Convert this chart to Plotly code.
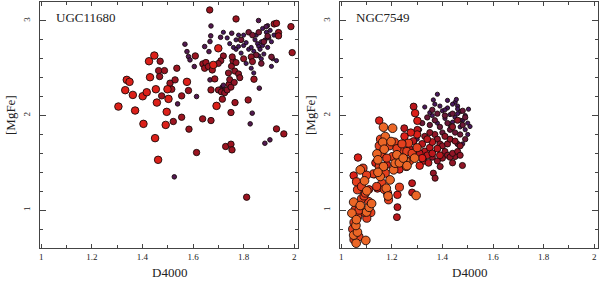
import plotly.graph_objects as go

# ---------------- data: UGC11680 (left) ----------------
ugc_x = [1.305,1.332,1.362,1.338,1.349,1.371,1.401,1.404,1.417,1.426,1.430,1.447,1.453,1.450,1.457,1.462,1.492,1.496,1.499,1.503,1.576,1.680,1.700,1.693,
         1.470,1.464,1.468,1.476,1.487,1.509,1.516,1.522,1.529,1.536,1.555,1.555,1.582,1.584,1.609,1.614,1.638,1.639,1.646,1.651,1.661,1.676,1.686,1.671,1.671,1.666,1.716,1.750,1.766,1.770,1.729,1.750,1.754,1.812,1.818,1.841,1.930,1.959,1.987,1.992,1.921,1.930,1.938,1.938,
         1.700,1.712,1.725,1.735,1.742,1.745,1.740,1.752,1.765,1.780,1.785,1.758,1.770,1.800,1.830,1.835,1.755,1.750,1.763,1.720,1.710,1.700,
         1.860,1.880,1.895,1.870,1.850,1.910,1.820,1.790,1.835,
         1.526,1.539,1.568,1.576,1.582,1.588,1.605,1.614,1.646,1.667,1.663,1.667,1.671,1.670,1.709,1.753,1.826,1.834,1.862,1.884,1.904,1.859,1.889,1.715,1.720,1.708,
         1.720,1.735,1.745,1.760,1.770,1.780,1.790,1.800,1.810,1.820,1.830,1.840,1.845,1.850,1.855,1.860,1.865,1.870,1.875,1.880,1.885,1.890,1.895,1.900,1.905,1.910,1.915,1.920,1.860,1.870,1.840,1.810,1.830,1.930,1.910,1.780,1.800,1.770,1.875,1.895]
ugc_y = [2.095,2.268,2.218,2.377,2.356,2.053,2.204,1.912,2.246,2.574,2.405,2.634,2.278,1.761,2.137,1.532,1.901,2.039,2.278,2.176,2.356,2.535,2.711,2.102,
         2.574,2.475,2.412,2.208,2.475,2.342,2.278,1.937,2.377,2.500,2.208,1.982,2.264,1.856,2.630,1.609,1.965,2.546,2.500,2.560,2.518,2.482,2.387,2.271,1.947,3.116,2.173,2.032,2.137,3.021,1.673,1.697,1.637,1.137,2.165,2.384,1.859,1.806,2.940,2.665,2.968,2.975,2.877,2.842,
         2.270,2.250,2.240,2.270,2.330,2.380,2.450,2.520,2.470,2.440,2.400,2.580,2.560,2.600,2.620,2.570,2.620,2.300,2.350,2.630,2.580,2.550,
         2.880,2.780,2.840,2.550,2.640,2.620,2.880,2.800,2.850,
         1.352,2.123,2.754,2.676,2.623,2.588,2.518,2.201,2.729,2.782,2.676,2.377,2.947,2.842,2.827,2.870,1.912,2.025,2.289,1.707,1.743,3.004,2.940,2.300,2.320,2.280,
         2.880,2.820,2.760,2.720,2.700,2.730,2.660,2.740,2.770,2.700,2.720,2.680,2.800,2.850,2.760,2.730,2.700,2.780,2.740,2.650,2.800,2.880,2.720,2.820,2.900,2.780,2.600,2.850,2.630,2.600,2.450,2.550,2.500,2.580,2.520,2.850,2.850,2.800,2.920,2.950]
ugc_t = [0.28]*24 + [0.5]*44 + [0.55]*22 + [0.65]*9 + [0.85]*26 + [0.93]*40

# ---------------- data: NGC7549 (right) ----------------
ngc_x = [1.059,1.049,1.064,1.058,1.097,1.042,1.049,1.075,1.075,1.092,1.101,1.141,1.145,1.154,1.167,1.174,1.164,1.170,1.167,1.178,1.193,1.197,1.203,1.207,1.213,1.220,1.296,1.255,1.100,1.110,1.060,1.145,1.230,1.245,1.260,1.290,1.185,1.120,
         1.055,1.064,1.086,1.108,1.117,1.101,1.088,1.128,1.161,1.174,1.183,1.187,1.203,1.230,1.233,1.246,1.257,1.259,1.266,1.050,1.070,1.045,1.050,1.065,1.070,1.080,1.090,1.095,1.060,1.080,1.100,1.150,1.160,1.180,1.190,1.150,1.210,1.220,1.240,1.270,1.280,1.300,1.155,1.140,1.170,
         1.049,1.066,1.143,1.150,1.222,1.292,1.301,1.130,1.180,1.230,1.320,1.310,1.300,1.110,1.135,1.275,1.250,
         1.222,1.220,1.249,1.280,1.280,1.286,1.301,1.320,1.330,1.340,1.350,1.360,1.340,1.310,1.285,1.270,1.360,1.380,1.390,1.325,1.345,
         1.364,1.371,1.391,1.450,1.479,1.370,1.380,1.390,1.400,1.410,1.420,1.430,1.440,1.400,1.380,1.420,1.430,1.410,1.440,1.460,1.470,1.450,1.350,1.330,1.460,1.440,1.470,1.360,
         1.350,1.370,1.390,1.400,1.420,1.430,1.450,1.470,1.480,1.490,1.460,1.380,1.360,1.320,1.340,1.410,1.440,1.490,1.480,
         1.380,1.364,1.503,1.509,1.370,1.390,1.400,1.420,1.430,1.450,1.460,1.470,1.480,1.490,1.500,1.500,1.490,1.480,1.470,1.450,1.440,1.410,1.380,1.360,1.350,1.330,1.420,1.440,1.460,1.470,1.430,1.310,1.300,1.290,1.460,1.455,1.410]
ngc_y = [0.651,0.736,0.768,0.838,0.680,0.968,1.085,1.049,1.426,1.310,1.204,1.595,1.532,1.356,1.877,1.778,1.718,1.644,1.461,1.232,1.320,1.725,1.866,1.426,1.496,1.585,1.155,1.520,0.980,1.030,0.900,1.400,1.500,1.550,1.470,1.550,1.150,1.070,
         1.004,1.215,1.444,1.092,0.975,0.915,0.979,1.384,1.285,1.391,1.180,1.109,1.567,1.243,1.637,1.514,1.461,1.620,1.708,0.690,0.720,0.800,0.870,0.930,1.000,1.120,1.150,1.180,1.300,1.250,1.370,1.460,1.600,1.550,1.680,1.680,1.720,1.650,1.700,1.520,1.600,1.660,1.750,1.250,1.220,
         1.366,1.556,1.229,1.947,1.162,2.025,1.944,1.380,1.480,1.430,1.550,1.470,1.800,1.220,1.500,1.820,1.780,
         1.032,0.926,1.866,1.285,1.187,2.095,1.849,1.700,1.620,1.580,1.660,1.720,1.750,1.600,1.730,1.650,1.600,1.650,1.580,1.520,1.500,
         1.391,1.338,1.461,1.567,1.472,1.800,1.750,1.700,1.680,1.620,1.580,1.560,1.600,1.550,1.520,1.700,1.750,1.780,1.500,1.620,1.680,1.730,1.820,1.780,1.950,1.880,1.580,1.560,
         1.900,1.950,1.880,1.820,1.920,1.850,1.820,1.800,1.900,1.750,1.700,2.020,2.060,1.920,1.980,2.000,2.020,1.980,2.050,
         2.225,2.165,2.067,1.884,2.120,2.100,2.050,2.080,2.010,2.140,2.100,2.040,1.950,2.000,1.920,1.800,1.850,1.700,1.880,1.980,1.930,1.970,1.920,2.000,2.030,2.090,2.160,2.120,2.070,1.950,1.900,1.850,1.750,1.720,2.020,2.170,2.060]
ngc_t = [0.06]*38 + [0.17]*45 + [0.28]*17 + [0.4]*21 + [0.55]*28 + [0.7]*19 + [0.92]*37

panels = ["UGC11680", "NGC7549"]
x_ticks = [1, 1.2, 1.4, 1.6, 1.8, 2]
y_ticks = [1, 2, 3]

colorscale = [[0.0, "#ef7a2a"], [0.17, "#e4401e"], [0.3, "#da1a18"],
              [0.5, "#9c1420"], [0.7, "#6a1838"], [1.0, "#3a1a6c"]]

FONT = "Liberation Serif"

fig = go.Figure()
for i, (xs, ys, ts) in enumerate([(ugc_x, ugc_y, ugc_t), (ngc_x, ngc_y, ngc_t)]):
    order = sorted(range(len(ts)), key=lambda k: -ts[k])
    xs_o = [xs[k] for k in order]
    ys_o = [ys[k] for k in order]
    ts_o = [ts[k] for k in order]
    sizes = [3.8 + 5.2 * (1 - t) for t in ts_o]
    fig.add_trace(go.Scatter(
        x=xs_o, y=ys_o, mode="markers",
        xaxis="x" if i == 0 else "x2", yaxis="y" if i == 0 else "y2",
        marker=dict(size=sizes, color=ts_o, colorscale=colorscale, cmin=0, cmax=1,
                    line=dict(color="#1a0a0a", width=0.9), opacity=1),
        showlegend=False, hoverinfo="skip"))

axis_common = dict(showline=True, linecolor="#444", linewidth=1, mirror="allticks",
                   ticks="inside", tickcolor="#444", showgrid=False, zeroline=False,
                   ticklabeloverflow="allow",
                   tickfont=dict(family=FONT, size=9, color="#222"))

xdoms = [[40/600, 298/600], [340/600, 598/600]]
ydom = [1 - 248/290, 1 - 2/290]
layout = dict(width=600, height=290, margin=dict(l=0, r=0, t=0, b=0),
              plot_bgcolor="white", paper_bgcolor="white",
              font=dict(family=FONT, color="#222"))
for i in range(2):
    sx = "" if i == 0 else "2"
    layout["xaxis" + sx] = dict(axis_common, domain=xdoms[i], range=[0.995, 2.015],
                                tickvals=x_ticks, ticktext=[f"{v:g}" for v in x_ticks],
                                ticklen=4, ticklabelstandoff=0,
                                minor=dict(dtick=0.1, tick0=1, ticklen=3, ticks="inside", tickcolor="#444"),
                                anchor="y" + sx)
    layout["yaxis" + sx] = dict(axis_common, domain=ydom, range=[0.6, 3.2],
                                tickvals=y_ticks, ticktext=[str(v) for v in y_ticks],
                                ticklen=6, tickangle=-90, ticklabelstandoff=5,
                                minor=dict(dtick=0.2, tick0=0, ticklen=3, ticks="inside", tickcolor="#444"),
                                anchor="x" + sx)
fig.update_layout(**layout)

for i, name in enumerate(panels):
    sx = "" if i == 0 else "2"
    fig.add_annotation(text=name, xref="x" + sx + " domain", yref="y" + sx + " domain",
                       x=0.055, y=0.975, xanchor="left", yanchor="top", showarrow=False,
                       font=dict(family=FONT, size=13, color="#222"))
    fig.add_annotation(text="D4000", xref="x" + sx + " domain", yref="paper",
                       x=0.5, y=1 - 272/290, xanchor="center", yanchor="middle", showarrow=False,
                       font=dict(family=FONT, size=13, color="#222"))
    fig.add_annotation(text="[MgFe]", xref="paper", yref="y" + sx + " domain",
                       x=(10 + 300 * i) / 600, y=0.5 + 10/246, xanchor="center", yanchor="middle",
                       textangle=-90, showarrow=False,
                       font=dict(family=FONT, size=13, color="#222"))

fig.write_html("out.html", config={"displayModeBar": False},
               post_script="document.body.style.margin='0';document.body.style.overflow='hidden';")
